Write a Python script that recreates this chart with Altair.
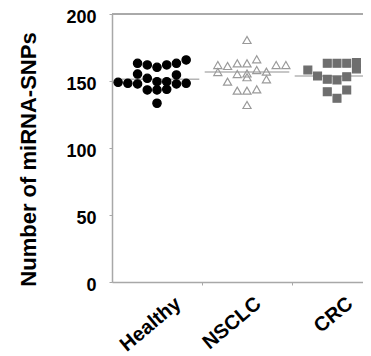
import altair as alt
import pandas as pd

groups = ["Healthy", "NSCLC", "CRC"]

healthy_cols = [-2, -1, 0, 1, 2, 3, -2, 2, -1, 0, 1, -4, -3, -2, 2, 3, -1, 0, 1, 0]
healthy_vals = [163.2, 162, 160.2, 162, 163.2, 165.7, 155.2, 154.5, 152, 149.5, 149.5,
                149, 148.3, 147.8, 147.8, 148.3, 143.3, 143.3, 143.8, 133.4]

nsclc_cols = [0, 1, -3, -2, -1, 0, 3, 4, -3, -1, 0, 1, 2, -2, 0, 2, -1, 0, 1, 0]
nsclc_vals = [180.6, 166.2, 161.9, 161.2, 163.2, 163.2, 161.9, 161.9, 156.7, 155.2, 155.6,
              158.2, 157, 149.5, 152.8, 151.3, 142.8, 142.8, 143.8, 132.1]

crc_cols = [-3, -2, -1, 0, 1, 2, 2, -1, 0, 1, -1, 1, 0]
crc_vals = [158.2, 153.7, 163.2, 163.2, 163.2, 163.8, 159, 151.3, 150.7, 153.2, 142, 143.3, 137.1]

medians = [151.3, 156.7, 153.7]

y_ticks = [0, 50, 100, 150, 200]

rows = []
for g, cols, vals in [("Healthy", healthy_cols, healthy_vals),
                      ("NSCLC", nsclc_cols, nsclc_vals),
                      ("CRC", crc_cols, crc_vals)]:
    for c, v in zip(cols, vals):
        rows.append({"group": g, "col": c, "value": v})
points_df = pd.DataFrame(rows)
median_df = pd.DataFrame({"group": groups, "median": medians})

order_expr = "indexof(" + str(groups) + ", datum.group)"

xscale = alt.Scale(domain=[0, 2.789], nice=False, zero=False)
yscale = alt.Scale(domain=[0, 200], nice=False)

FONT = "Liberation Sans"
AXIS_GRAY = "#a8a8a8"

x_axis = alt.Axis(
    values=[1, 2, 0.66, 1.55, 2.57],
    labelExpr="datum.value % 1 === 0 ? '' : (datum.value < 1 ? 'Healthy' : (datum.value < 2 ? 'NSCLC' : 'CRC'))",
    labelAngle=-40, labelAlign="right", labelBaseline="top",
    labelFontSize=20, labelFontWeight="bold", labelFont=FONT, labelColor="black",
    labelPadding=8, tickSize=3,
    tickColor={"condition": {"test": "datum.value % 1 === 0", "value": AXIS_GRAY}, "value": "transparent"},
    domainColor=AXIS_GRAY, domainWidth=1.5, grid=False, title=None,
)

y_axis = alt.Axis(
    values=y_ticks, labelFontSize=18, labelFontWeight="bold", labelFont=FONT, labelColor="black",
    labelPadding=13, labelOffset=3, tickSize=3, tickColor=AXIS_GRAY, domainColor=AXIS_GRAY, domainWidth=1.5,
    grid=False, title="Number of miRNA-SNPs", titleFont=FONT, titleFontSize=22,
    titleFontWeight="bold", titleColor="black", titleX=-77, titleY=145,
    titleAngle=270, titleAlign="center", titleBaseline="alphabetic",
)

top_rule = alt.Chart(median_df).mark_rule(color=AXIS_GRAY, strokeWidth=1.5).encode(
    y=alt.datum(200, scale=yscale, axis=y_axis)
)

median_rules = alt.Chart(median_df).transform_calculate(
    idx=order_expr
).transform_calculate(
    x1="datum.idx + 0.03", x2="datum.idx + 0.97"
).mark_rule(color="#b4b4b4", strokeWidth=1.5).encode(
    x=alt.X("x1:Q", scale=xscale, axis=x_axis),
    x2="x2:Q",
    y=alt.Y("median:Q", scale=yscale, axis=y_axis),
)

pts = alt.Chart(points_df).transform_calculate(
    idx=order_expr
).transform_calculate(
    xpos="datum.idx + 0.5 + datum.col * 0.108"
).mark_point(opacity=1, strokeWidth=1.2).encode(
    x=alt.X("xpos:Q", scale=xscale, axis=x_axis),
    y=alt.Y("value:Q", scale=yscale, axis=y_axis),
    shape=alt.Shape("group:N", scale=alt.Scale(domain=groups, range=["circle", "triangle-up", "square"]), legend=None),
    fill=alt.Fill("group:N", scale=alt.Scale(domain=groups, range=["#000000", "transparent", "#6e6e6e"]), legend=None),
    stroke=alt.Stroke("group:N", scale=alt.Scale(domain=groups, range=["#000000", "#9a9a9a", "#6e6e6e"]), legend=None),
    size=alt.Size("group:N", scale=alt.Scale(domain=groups, range=[70, 62, 72]), legend=None),
)

chart = alt.layer(top_rule, median_rules, pts).properties(
    width=251, height=268,
    autosize=alt.AutoSizeParams(type="none"),
    padding={"left": 104, "top": 6, "right": 0, "bottom": 74},
).configure_view(strokeWidth=0).configure(background="white")

chart.save("out.html", embed_options={"renderer": "svg", "actions": False})
